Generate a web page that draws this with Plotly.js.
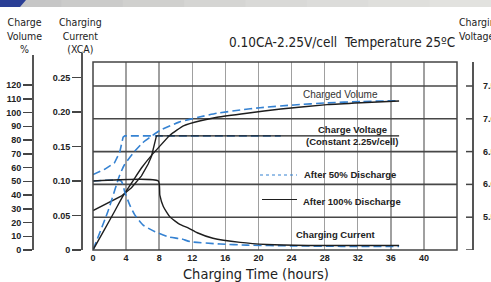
<!DOCTYPE html>
<html>
<head>
<meta charset="utf-8">
<script src="https://cdn.plot.ly/plotly-3.0.1.min.js"></script>
<style>html,body{margin:0;padding:0;background:#fff;}#chart{width:491px;height:282px;}</style>
</head>
<body>
<div id="chart"></div>
<script>
// ---------- data ----------
const timeTicks = [0, 4, 8, 12, 16, 20, 24, 28, 32, 36, 40];
const volTicks = [0, 10, 20, 30, 40, 50, 60, 70, 80, 90, 100, 110, 120];
const curTickVals = [0, 0.05, 0.10, 0.15, 0.20, 0.25];
const curTickText = ['0', '0.05', '0.10', '0.15', '0.20', '0.25'];
const voltTickVals = [5.0, 5.5, 6.0, 6.5, 7.0, 7.5];
const voltTickText = ['', '5.5', '6.0', '6.5', '7.0', '7.5'];

// After 50% discharge
const vol50T = [0, 1.8, 3.2, 3.8, 5, 6, 7, 8.1, 10.4, 12.7, 15, 17.8, 20.2, 24.3, 28.3, 32.4, 37];
const vol50 = [0, 28, 54, 62, 71.5, 78, 82.5, 87, 93, 96.5, 99.5, 101.8, 103.5, 105.5, 107, 108, 108.6];
const volt50T = [0, 1.4, 2.6, 3.23, 3.64, 3.84, 22.7];
const volt50 = [6.15, 6.23, 6.33, 6.49, 6.72, 6.74, 6.74];
const cur50T = [0, 3.4, 3.84, 4.45, 5.05, 6.06, 7.5, 9.1, 10.7, 11.8, 15.4, 18.6, 24, 30, 37];
const cur50 = [0.10, 0.10, 0.084, 0.065, 0.051, 0.036, 0.0265, 0.019, 0.016, 0.012, 0.0087, 0.007, 0.006, 0.0053, 0.0052];

// After 100% discharge
const vol100T = [0, 1.4, 2.6, 3.6, 4.85, 5.9, 7.1, 8, 9.3, 11, 13, 15, 18.6, 22.7, 28.3, 32.4, 37];
const vol100 = [0, 15, 28, 39, 50.5, 60, 69, 75, 83.5, 90.5, 94, 96.5, 99.5, 102.5, 105.7, 107.1, 108.4];
const volt100T = [0, 1.8, 3.4, 4.65, 5.86, 6.67, 7.07, 7.67, 37];
const volt100 = [5.6, 5.72, 5.82, 5.95, 6.13, 6.31, 6.43, 6.74, 6.74];
const cur100T = [0, 7.9, 8.08, 8.5, 9.3, 10.5, 11.5, 12.6, 14.5, 17.8, 21, 26, 37];
const cur100 = [0.10, 0.10, 0.0795, 0.063, 0.048, 0.037, 0.032, 0.025, 0.017, 0.011, 0.008, 0.0065, 0.0065];

// ---------- styling helpers ----------
const W = 491, H = 282, T = 62, B = 32;
const PH = H - T - B;
const px = v => v / W;
const py = v => (H - B - v) / PH;

const BLUE = '#3582d2';
const BLACK = '#1e1e1e';
const COND = '"DejaVu Sans Condensed", "Liberation Sans Narrow", "Arial Narrow", sans-serif';
const BOLD = {family: '"Liberation Sans", Arial, sans-serif', size: 9, color: '#222', weight: 'bold'};

const blueSpline = {color: BLUE, width: 1.6, dash: '8px,4px', shape: 'spline', smoothing: 0.5};
const blackSpline = {color: BLACK, width: 1.4, shape: 'spline', smoothing: 0.5};
const blueLin = {color: BLUE, width: 1.6, dash: '8px,4px', shape: 'linear'};
const blackLin = {color: BLACK, width: 1.4, shape: 'linear'};

const timeRange = [0, 44];
const voltRange = [5.0, 5.0 + PH / 65.6];
const volRange = [0, PH / 1.375];
const curRange = [0, PH / 690];

// horizontal grid built from the voltage tick values (drawn under the curves)
const gridX = [], gridY = [];
voltTickVals.slice(1).forEach(v => {
  gridX.push(timeRange[0], timeRange[1], null);
  gridY.push(v, v, null);
});

const traces = [
  {x: gridX, y: gridY, yaxis: 'y', mode: 'lines', line: {color: '#474747', width: 1.6}, hoverinfo: 'skip', connectgaps: false},
  {x: volt50T, y: volt50, yaxis: 'y', mode: 'lines', line: blueLin},
  {x: volt100T, y: volt100, yaxis: 'y', mode: 'lines', line: blackLin},
  {x: vol50T, y: vol50, yaxis: 'y2', mode: 'lines', line: blueSpline},
  {x: cur50T, y: cur50, yaxis: 'y3', mode: 'lines', line: blueSpline},
  {x: vol100T, y: vol100, yaxis: 'y2', mode: 'lines', line: blackSpline},
  {x: cur100T, y: cur100, yaxis: 'y3', mode: 'lines', line: blackSpline}
];

const sideAxis = {
  overlaying: 'y', anchor: 'free', automargin: false, showgrid: false, zeroline: false,
  showline: true, linecolor: '#555', linewidth: 2,
  ticks: 'outside', ticklen: 9, tickwidth: 1.5, tickcolor: '#444',
  tickmode: 'array', tickfont: BOLD, fixedrange: true
};

const shapes = [];
// plot frame
shapes.push({type: 'rect', xref: 'paper', yref: 'paper', x0: px(93), x1: px(457), y0: 0, y1: 1,
  line: {color: '#444', width: 1.5}, fillcolor: 'rgba(0,0,0,0)', layer: 'above'});
// top banner gradient
const bandColors = ['#c6c6c6', '#cbcbca', '#d0d0ce', '#d5d5d3', '#d9d9d7', '#dcdcda', '#dfdfdc', '#e2e2df'];
bandColors.forEach((c, i) => {
  shapes.push({type: 'rect', xref: 'paper', yref: 'paper', x0: px(i * W / 8), x1: px((i + 1) * W / 8 + 1),
    y0: py(7), y1: py(0), fillcolor: c, line: {width: 0}});
});
shapes.push({type: 'path', xref: 'paper', yref: 'paper',
  path: `M ${px(0)} ${py(0)} L ${px(26)} ${py(0)} L ${px(20)} ${py(7)} L ${px(0)} ${py(7)} Z`,
  fillcolor: '#2b3f96', line: {width: 0}});
// extend left axis lines upward
shapes.push({type: 'line', xref: 'paper', yref: 'paper', x0: px(33), x1: px(33), y0: py(63), y1: py(55), line: {color: '#555', width: 2}});
shapes.push({type: 'line', xref: 'paper', yref: 'paper', x0: px(82), x1: px(82), y0: py(63), y1: py(53), line: {color: '#555', width: 2}});
// right voltage axis line
shapes.push({type: 'line', xref: 'paper', yref: 'paper', x0: px(473), x1: px(473), y0: py(62), y1: py(250), line: {color: '#555', width: 2}});
// legend samples
shapes.push({type: 'line', xref: 'paper', yref: 'paper', x0: px(260), x1: px(297), y0: py(175), y1: py(175), line: {color: BLUE, width: 1.2, dash: 'dot'}});
shapes.push({type: 'line', xref: 'paper', yref: 'paper', x0: px(262), x1: px(297), y0: py(199.5), y1: py(199.5), line: {color: BLACK, width: 1.2}});

const ann = (text, x, y, font, extra) => Object.assign({
  text: text, xref: 'paper', yref: 'paper', x: px(x), y: py(y), showarrow: false,
  xanchor: 'center', yanchor: 'middle', font: font
}, extra || {});

const condFont = s => ({family: COND, size: s, color: '#222'});
const labFont = {family: '"Liberation Sans", Arial, sans-serif', size: 9.5, color: '#222', weight: 'bold'};

const annotations = [
  ann('0.10CA-2.25V/cell  Temperature 25ºC', 342, 42, condFont(13.5)),
  ann('Charge<br>Volume<br>%', 24, 35, condFont(10.5), {align: 'center'}),
  ann('Charging<br>Current<br>(XCA)', 80, 35, condFont(10.5), {align: 'center'}),
  ann('Charging<br>Voltage', 457, 29, condFont(10.5), {align: 'left', xanchor: 'left'}),
  ann('Charging Time (hours)', 256, 273.5, condFont(14.5)),
  ann('Charged Volume', 340, 94, {family: '"Liberation Sans", Arial, sans-serif', size: 10, color: '#333'}),
  ann('Charge Voltage', 352, 129, labFont),
  ann('(Constant 2.25v/cell)', 352, 141.5, labFont),
  ann('After 50% Discharge', 350, 174.5, labFont),
  ann('After 100% Discharge', 352, 201, labFont),
  ann('Charging Current', 335, 234, labFont)
];

// voltage ticks and labels on the right, placed from the voltage tick arrays
voltTickVals.forEach((v, i) => {
  shapes.push({type: 'line', xref: 'paper', yref: 'y', x0: px(466), x1: px(473), y0: v, y1: v, line: {color: '#444', width: 1.5}});
  if (voltTickText[i]) annotations.push({text: voltTickText[i], xref: 'paper', yref: 'y', x: px(481), y: v,
    showarrow: false, xanchor: 'left', yanchor: 'middle', font: BOLD});
});

const layout = {
  width: W, height: H,
  margin: {l: 0, r: 0, t: T, b: B, pad: 0},
  paper_bgcolor: '#ffffff', plot_bgcolor: 'rgba(0,0,0,0)',
  showlegend: false,
  xaxis: {
    domain: [px(93), px(457)], range: timeRange, tickmode: 'array', tickvals: timeTicks,
    showgrid: true, gridcolor: '#a0a0a0', gridwidth: 1.5, zeroline: false,
    showline: false, ticks: '', ticklabelstandoff: 1, tickfont: BOLD, fixedrange: true
  },
  yaxis: {
    range: voltRange, showgrid: false, zeroline: false, showline: false,
    showticklabels: false, ticks: '', fixedrange: true
  },
  yaxis2: Object.assign({}, sideAxis, {range: volRange, position: px(33), side: 'left', tickvals: volTicks}),
  yaxis3: Object.assign({}, sideAxis, {range: curRange, position: px(82), side: 'left', tickvals: curTickVals, ticktext: curTickText}),
  shapes: shapes,
  annotations: annotations
};

Plotly.newPlot('chart', traces, layout, {displayModeBar: false, staticPlot: true});
</script>
</body>
</html>
